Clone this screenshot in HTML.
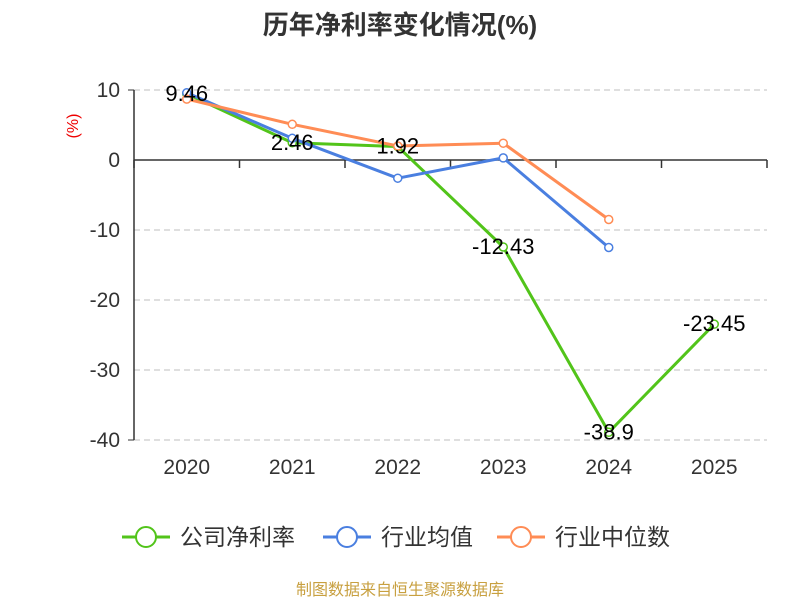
<!DOCTYPE html>
<html><head><meta charset="utf-8"><style>
body{margin:0;background:#fff;font-family:"Liberation Sans","Noto Sans CJK SC",sans-serif}
</style></head><body>
<svg id="chart" width="800" height="600" xmlns="http://www.w3.org/2000/svg">
<text x="400" y="34" text-anchor="middle" font-size="26" font-weight="bold" fill="#333" font-family="Liberation Sans, Noto Sans CJK SC, sans-serif">历年净利率变化情况(%)</text>
<text x="78" y="126" text-anchor="middle" font-size="16" fill="#e00" transform="rotate(-90 78 126)" font-family="Liberation Sans, sans-serif">(%)</text>
<g id="grid"></g><g id="axes"></g><g id="series"></g><g id="labels"></g>
<g id="legend"></g>
<text x="400" y="595" text-anchor="middle" font-size="16" fill="#c8a040" font-family="Liberation Sans, Noto Sans CJK SC, sans-serif">制图数据来自恒生聚源数据库</text>
</svg>
<script>
const categories=["2020","2021","2022","2023","2024","2025"];
const yTicks=[10,0,-10,-20,-30,-40];
const companyNet=[9.46,2.46,1.92,-12.43,-38.9,-23.45];
const companyLabels=["9.46","2.46","1.92","-12.43","-38.9","-23.45"];
const industryAvg=[9.6,3.1,-2.6,0.3,-12.5,null];
const industryMedian=[8.7,5.1,2.0,2.4,-8.5,null];
const NS="http://www.w3.org/2000/svg";
const x0=134,x1=767,yTop=90,y0=160;
const bw=(x1-x0)/categories.length;
const xs=i=>x0+bw*(i+0.5);
const ys=v=>y0-(v)*7;
function mk(t,a,p){const e=document.createElementNS(NS,t);for(const k in a)e.setAttribute(k,a[k]);document.getElementById(p).appendChild(e);return e;}
yTicks.forEach(t=>{
 if(t!==0){const g=mk('line',{x1:x0,x2:x1,y1:ys(t),y2:ys(t),stroke:'#ccc','stroke-dasharray':'6,4','stroke-width':1.2},'grid');
 
 }
 const l=mk('text',{x:x0-14,y:ys(t)+7,'text-anchor':'end','font-size':21,fill:'#333'},'axes');l.textContent=t;
 
 
});
let a=mk('line',{x1:x0,x2:x0,y1:ys(10),y2:ys(-40),stroke:'#333','stroke-width':1.5},'axes');


a=mk('line',{x1:x0,x2:x1,y1:y0,y2:y0,stroke:'#333','stroke-width':1.5},'axes');


for(let i=0;i<=categories.length;i++){const t=mk('line',{x1:x0+bw*i,x2:x0+bw*i,y1:y0,y2:y0+8,stroke:'#333','stroke-width':1.5},'axes');
 
 }
mk('line',{x1:x0-6,x2:x0,y1:ys(10),y2:ys(10),stroke:'#333'},'axes');
mk('line',{x1:x0-6,x2:x0,y1:ys(-40),y2:ys(-40),stroke:'#333'},'axes');
categories.forEach((c,i)=>{const l=mk('text',{x:xs(i),y:474,'text-anchor':'middle','font-size':21,fill:'#333'},'axes');l.textContent=c;
 
 });
function series(data,color,name){
 const pts=[];data.forEach((v,i)=>{if(v!==null)pts.push([xs(i),ys(v)]);});
 const p=mk('polyline',{points:pts.map(p=>p.join(',')).join(' '),fill:'none',stroke:color,'stroke-width':3,'stroke-linejoin':'round'},'series');
 
 
 pts.forEach(q=>{const c=mk('circle',{cx:q[0],cy:q[1],r:4,fill:'#fff',stroke:color,'stroke-width':1.5},'series');
  
  });
}
series(companyNet,'#52c41a','company-net-margin');
series(industryAvg,'#4a7fe0','industry-average');
series(industryMedian,'#ff8c55','industry-median');
companyNet.forEach((v,i)=>{const l=mk('text',{x:xs(i),y:ys(v)+7,'text-anchor':'middle','font-size':22,fill:'#000'},'labels');l.textContent=companyLabels[i];
 
 });
const leg=[["公司净利率",'#52c41a',122],["行业均值",'#4a7fe0',323],["行业中位数",'#ff8c55',497]];
leg.forEach(d=>{
 const g=mk('g',{},'legend');
 
 
 const L=document.createElementNS(NS,'line');
 [['x1',d[2]],['x2',d[2]+48],['y1',537],['y2',537],['stroke',d[1]],['stroke-width',3]].forEach(k=>L.setAttribute(k[0],k[1]));g.appendChild(L);
 const C=document.createElementNS(NS,'circle');
 [['cx',d[2]+24],['cy',537],['r',10],['fill','#fff'],['stroke',d[1]],['stroke-width',2]].forEach(k=>C.setAttribute(k[0],k[1]));g.appendChild(C);
 const T=document.createElementNS(NS,'text');
 [['x',d[2]+58],['y',545],['font-size',23],['fill','#333']].forEach(k=>T.setAttribute(k[0],k[1]));T.textContent=d[0];g.appendChild(T);
});
</script>
</body></html>
